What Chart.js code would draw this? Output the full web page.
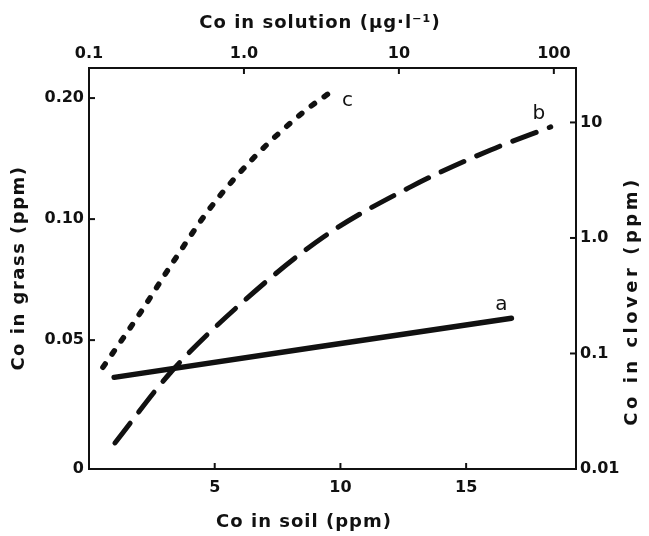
<!DOCTYPE html>
<html>
<head>
<meta charset="utf-8">
<script src="https://cdn.jsdelivr.net/npm/chart.js@4.4.1/dist/chart.umd.min.js"></script>
<style>
  html, body { margin: 0; padding: 0; background: #fff; }
  canvas { display: block; }
</style>
</head>
<body>
<canvas id="myChart" width="649" height="536"></canvas>
<script>
// curve a: Co in grass against Co in soil
const soilA = [1.0, 9.0, 16.8];
const grassA = [0.0404, 0.0480, 0.0567];
// curve b: Co in clover against Co in solution
const solutionB = [0.147, 0.334, 0.906, 3.26, 11.9, 39.1, 95.5];
const cloverB = [0.0168, 0.0678, 0.253, 1.02, 2.77, 5.78, 9.14];
// curve c: Co in grass against Co in solution
const solutionC = [0.123, 0.214, 0.349, 0.605, 1.15, 2.42, 3.78];
const grassC = [0.0428, 0.0584, 0.0782, 0.1065, 0.1418, 0.1846, 0.2094];

// axis ticks (the grass axis bottom is marked "0" in the figure)
const soilTicks = [5, 10, 15];
const solutionTicks = [0.1, 1, 10, 100];
const solutionLabels = ['0.1', '1.0', '10', '100'];
const grassTicks = [0.0239, 0.05, 0.10, 0.20];
const grassLabels = ['0', '0.05', '0.10', '0.20'];
const cloverTicks = [0.01, 0.1, 1, 10];
const cloverLabels = ['0.01', '0.1', '1.0', '10'];

const ink = '#111';
const font = 'DejaVu Sans';

function pts(xs, ys) {
    return xs.map((x, i) => ({x: x, y: ys[i]}));
}

function axis(extra) {
    return Object.assign({
        grid: {display: true, drawOnChartArea: false, drawTicks: false},
        border: {display: true, color: ink, width: 2},
        title: {display: false}
    }, extra);
}

function tickOpts(labels, list, padding) {
    return {
        color: ink,
        font: {family: font, size: 16, weight: 'bold'},
        autoSkip: false,
        maxRotation: 0,
        padding: padding,
        callback: v => labels ? labels[list.indexOf(v)] : String(v)
    };
}

// little ticks pointing into the frame, like the paper figure
const inwardTicks = {
    id: 'inwardTicks',
    afterDatasetsDraw(chart) {
        const {ctx, chartArea: a, scales} = chart;
        const len = 6;
        ctx.save();
        ctx.strokeStyle = ink;
        ctx.lineWidth = 2;
        const mark = (x1, y1, x2, y2) => {
            ctx.beginPath(); ctx.moveTo(x1, y1); ctx.lineTo(x2, y2); ctx.stroke();
        };
        scales.x.ticks.forEach(t => { const p = scales.x.getPixelForValue(t.value); mark(p, a.bottom, p, a.bottom - len); });
        scales.x2.ticks.forEach(t => { const p = scales.x2.getPixelForValue(t.value); mark(p, a.top, p, a.top + len); });
        scales.y.ticks.forEach(t => { const p = scales.y.getPixelForValue(t.value); mark(a.left, p, a.left + len, p); });
        scales.y2.ticks.forEach(t => { const p = scales.y2.getPixelForValue(t.value); mark(a.right, p, a.right - len, p); });
        ctx.restore();
    }
};

// axis titles and the a / b / c curve letters
const paperText = {
    id: 'paperText',
    afterDraw(chart) {
        const ctx = chart.ctx;
        ctx.save();
        ctx.fillStyle = ink;
        ctx.textAlign = 'center';
        ctx.textBaseline = 'middle';
        ctx.font = 'bold 18px "' + font + '"';
        ctx.letterSpacing = '1px';
        ctx.fillText('Co in solution (µg·l⁻¹)', 320, 23);
        ctx.fillText('Co in soil (ppm)', 304, 522);

        ctx.save();
        ctx.translate(19, 268);
        ctx.rotate(-Math.PI / 2);
        ctx.letterSpacing = '1.5px';
        ctx.fillText('Co in grass (ppm)', 0, 0);
        ctx.restore();

        ctx.save();
        ctx.translate(632, 301);
        ctx.rotate(-Math.PI / 2);
        ctx.letterSpacing = '3.5px';
        ctx.fillText('Co in clover (ppm)', 0, 0);
        ctx.restore();

        ctx.letterSpacing = '0px';
        ctx.font = '20px "' + font + '"';
        const offsets = [[-10, -13], [-12, -13], [14, 11]];
        chart.data.datasets.forEach((ds, i) => {
            const els = chart.getDatasetMeta(i).data;
            const last = els[els.length - 1];
            ctx.fillText(ds.label, last.x + offsets[i][0], last.y + offsets[i][1]);
        });
        ctx.restore();
    }
};

new Chart('myChart', {
    type: 'line',
    data: {
        datasets: [
            {
                label: 'a',
                data: pts(soilA, grassA),
                xAxisID: 'x', yAxisID: 'y',
                borderColor: ink, borderWidth: 5.5, borderCapStyle: 'round',
                tension: 0
            },
            {
                label: 'b',
                data: pts(solutionB, cloverB),
                xAxisID: 'x2', yAxisID: 'y2',
                borderColor: ink, borderWidth: 5, borderCapStyle: 'round',
                borderDash: [25, 14],
                cubicInterpolationMode: 'monotone'
            },
            {
                label: 'c',
                data: pts(solutionC, grassC),
                xAxisID: 'x2', yAxisID: 'y',
                borderColor: ink, borderWidth: 5.5, borderCapStyle: 'round',
                borderDash: [4, 12],
                cubicInterpolationMode: 'monotone'
            }
        ]
    },
    options: {
        responsive: false,
        animation: false,
        events: [],
        layout: {padding: 0},
        elements: {point: {radius: 0}},
        plugins: {legend: {display: false}, tooltip: {enabled: false}},
        scales: {
            x: axis({
                type: 'linear', position: 'bottom', min: 0, max: 19.37,
                ticks: tickOpts(null, soilTicks, 9),
                afterBuildTicks: s => { s.ticks = soilTicks.map(v => ({value: v})); },
                afterFit: s => { s.height = 67; }
            }),
            x2: axis({
                type: 'logarithmic', position: 'top', min: 0.1, max: 139,
                ticks: tickOpts(solutionLabels, solutionTicks, 5),
                afterBuildTicks: s => { s.ticks = solutionTicks.map(v => ({value: v})); },
                afterFit: s => { s.height = 68; }
            }),
            y: axis({
                type: 'logarithmic', position: 'left', min: 0.0239, max: 0.2376,
                ticks: tickOpts(grassLabels, grassTicks, 5),
                afterBuildTicks: s => { s.ticks = grassTicks.map(v => ({value: v})); },
                afterFit: s => { s.width = 89; }
            }),
            y2: axis({
                type: 'logarithmic', position: 'right', min: 0.01, max: 29.6,
                ticks: tickOpts(cloverLabels, cloverTicks, 4),
                afterBuildTicks: s => { s.ticks = cloverTicks.map(v => ({value: v})); },
                afterFit: s => { s.width = 73; }
            })
        }
    },
    plugins: [inwardTicks, paperText]
});
</script>
</body>
</html>
